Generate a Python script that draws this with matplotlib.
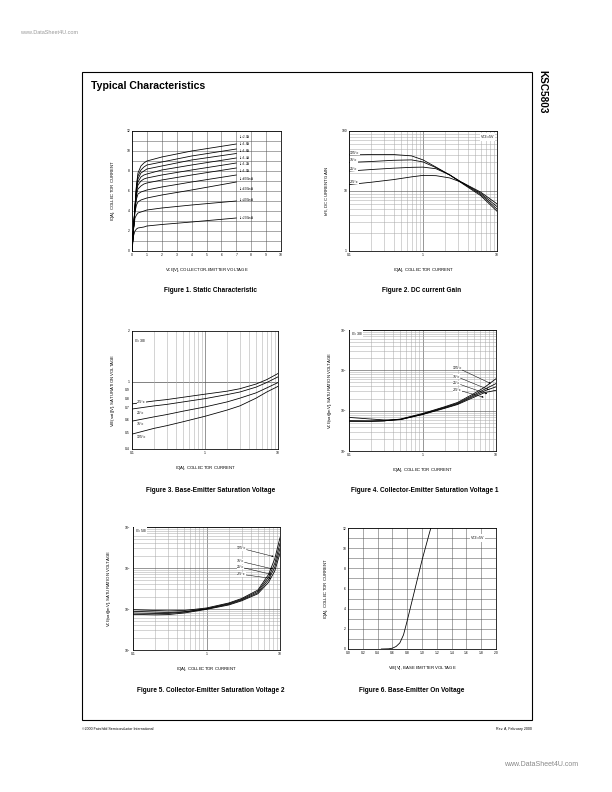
import numpy as np
import matplotlib
matplotlib.use("Agg")
import matplotlib.pyplot as plt
from matplotlib.ticker import FixedLocator, NullFormatter, LogLocator

plt.rcParams['font.family'] = ['Liberation Sans', 'DejaVu Sans']
plt.rcParams['mathtext.fontset'] = 'custom'
plt.rcParams['mathtext.rm'] = 'Liberation Sans'
plt.rcParams['mathtext.it'] = 'Liberation Sans'

# ---- data ----
# Fig 1: static characteristic
vce_pts = [0, 0.1, 0.2, 0.3, 0.4, 0.6, 0.8, 1.0, 2.0, 4.0, 7.0]
ib_labels = ['2.0A', '1.8A', '1.6A', '1.4A', '1.2A', '1.0A', '800mA', '600mA', '400mA', '200mA']
ic_static = [
    [0, 2.2, 4.5, 6.6, 7.8, 8.5, 8.8, 9.0, 9.4, 10.0, 10.7],
    [0, 2.2, 4.5, 6.5, 7.5, 8.1, 8.4, 8.6, 8.9, 9.5, 10.2],
    [0, 2.2, 4.4, 6.3, 7.2, 7.8, 8.0, 8.2, 8.5, 9.1, 9.75],
    [0, 2.2, 4.4, 6.1, 6.9, 7.4, 7.6, 7.7, 8.1, 8.6, 9.3],
    [0, 2.2, 4.3, 5.9, 6.6, 7.0, 7.2, 7.3, 7.6, 8.1, 8.8],
    [0, 2.2, 4.2, 5.6, 6.2, 6.5, 6.7, 6.8, 7.1, 7.6, 8.3],
    [0, 2.2, 4.1, 5.2, 5.7, 5.9, 6.0, 6.1, 6.4, 6.9, 7.6],
    [0, 2.2, 3.9, 4.6, 4.9, 5.1, 5.2, 5.3, 5.6, 6.1, 6.9],
    [0, 2.1, 3.3, 3.6, 3.8, 3.9, 4.0, 4.1, 4.3, 4.6, 5.0],
    [0, 1.5, 2.0, 2.2, 2.3, 2.35, 2.4, 2.5, 2.65, 2.9, 3.3],
]
ib_label_y = [11.35, 10.65, 9.95, 9.3, 8.65, 8.0, 7.2, 6.2, 5.1, 3.3]

# Fig 2: DC current gain
ic_gain = [0.1, 0.2, 0.4, 0.7, 1.0, 1.5, 2.3, 3.5, 6.0, 10.0]
temps = ['125°c', '75°c', '25°c', '-25°c']
hfe = [
    [40, 40.5, 40.5, 38.5, 33, 25, 18.5, 13.0, 8.4, 4.6],
    [30, 31, 32.5, 33, 30.5, 24.5, 18.5, 13.3, 8.8, 5.0],
    [21.5, 22.8, 24, 24.8, 25, 23.5, 18.5, 13.5, 9.2, 5.5],
    [12.8, 14, 15.5, 17.2, 18.2, 18.0, 16.5, 13.6, 9.6, 6.1],
]
hfe_label_y = [43, 32.5, 23.5, 14.3]

# Fig 3: base-emitter saturation voltage (Ic = 3 Ib)
ic_sat = [0.1, 0.2, 0.3, 0.5, 1, 2, 3, 5, 7, 10]
vbe_temps = ['-25°c', '25°c', '75°c', '125°c']
vbe_sat = [
    [0.74, 0.77, 0.785, 0.81, 0.845, 0.88, 0.91, 0.97, 1.03, 1.12],
    [0.69, 0.72, 0.735, 0.76, 0.795, 0.84, 0.87, 0.93, 0.99, 1.07],
    [0.585, 0.62, 0.64, 0.67, 0.71, 0.76, 0.80, 0.86, 0.92, 0.99],
    [0.49, 0.53, 0.55, 0.58, 0.625, 0.68, 0.72, 0.80, 0.87, 0.94],
]
vbe_label_y = [0.76, 0.655, 0.56, 0.47]

# Fig 4: collector-emitter saturation voltage (Ic = 3 Ib), mV
vce_sat1 = [
    [55, 55, 56, 62, 85, 125, 160, 265, 380, 620],
    [55, 55, 56, 61, 83, 121, 153, 245, 340, 470],
    [56, 55, 56, 60, 81, 117, 147, 230, 310, 390],
    [68, 62, 59, 60, 80, 114, 142, 215, 280, 320],
]
vce1_label_y = [1150, 700, 480, 330]
vce1_arrow = [(8.5, 470), (8.0, 330), (7.6, 260), (6.8, 215)]

# Fig 5: collector-emitter saturation voltage (Ic = 5 Ib), mV
ic_sat2 = [0.1, 0.2, 0.3, 0.5, 1, 2, 3, 5, 7, 8.5, 10]
vce_sat2 = [
    [96, 92, 90, 92, 106, 140, 180, 290, 700, 1700, 5500],
    [88, 84, 82, 86, 102, 135, 172, 270, 600, 1300, 4000],
    [80, 78, 78, 84, 100, 130, 165, 250, 520, 1050, 3000],
    [74, 72, 73, 80, 98, 125, 158, 235, 450, 850, 2300],
]
vce2_label_y = [3000, 1450, 1050, 700]
vce2_arrow = [(8.2, 1900), (7.9, 950), (7.6, 700), (7.6, 560)]

# Fig 6: base-emitter on voltage
vbe_on = [0.45, 0.55, 0.6, 0.65, 0.7, 0.75, 0.8, 0.9, 1.0, 1.1, 1.12]
ic_on = [0, 0.02, 0.08, 0.25, 0.6, 1.4, 2.8, 5.8, 8.8, 11.5, 12.0]

W, H = 612, 792
fig = plt.figure(figsize=(W / 72, H / 72), dpi=72)
TS = 3.4   # tick label size
LS = 4.3   # axis label size


def ax_at(l, t, r, b):
    return fig.add_axes([l / W, 1 - b / H, (r - l) / W, (b - t) / H])


def ftext(x, y, s, **kw):
    fig.text(x / W, 1 - y / H, s, **kw)


def style(ax):
    ax.tick_params(which='both', length=0, labelsize=TS, pad=2)
    for sp in ax.spines.values():
        sp.set_linewidth(0.8)


def log_grid(ax, xgrid=True, ygrid=True):
    ax.grid(which='major', axis='both', color='#555555', lw=0.6)
    if xgrid:
        ax.grid(which='minor', axis='x', color='#aaaaaa', lw=0.5)
    if ygrid:
        ax.grid(which='minor', axis='y', color='#aaaaaa', lw=0.5)
    ax.xaxis.set_minor_locator(LogLocator(base=10, subs=np.arange(2, 10)))
    ax.xaxis.set_minor_formatter(NullFormatter())
    ax.set_axisbelow(True)


# page frame and headings
fig.add_artist(plt.Rectangle((82 / W, 1 - 720 / H), 450 / W, 648 / H, fill=False,
                             lw=1.1, color='black', transform=fig.transFigure))
ftext(91, 86, 'Typical Characteristics', fontsize=10.5, fontweight='bold', va='center')
ftext(542, 70, 'KSC5803', fontsize=10, fontweight='bold', rotation=-90, ha='center', va='top')
ftext(20, 32, 'www.DataSheet4U.com', fontsize=5.5, color='#999999', va='center')
ftext(578, 765, 'www.DataSheet4U.com', fontsize=7, color='#888888', ha='right', va='center')
ftext(82, 729, '©2000 Fairchild Semiconductor International', fontsize=3.6, va='center')
ftext(532, 729, 'Rev. A, February 2000', fontsize=3.6, ha='right', va='center')

# ---- Figure 1 ----
ax1 = ax_at(132, 131, 281, 251)
for ic, lab, ly in zip(ic_static, ib_labels, ib_label_y):
    ax1.plot(vce_pts, ic, color='black', lw=0.8)
    ax1.text(7.15, ly, 'I$_B$=' + lab, fontsize=2.9, va='center', ha='left')
ax1.set_xlim(0, 10)
ax1.set_ylim(0, 12)
ax1.set_xticks(range(0, 11))
ax1.set_yticks(range(0, 13, 2))
ax1.yaxis.set_minor_locator(FixedLocator(range(1, 12, 2)))
ax1.grid(which='both', color='#555555', lw=0.5)
ax1.set_axisbelow(True)
style(ax1)
ax1.set_xlabel('V$_{CE}$[V], COLLECTOR-EMITTER VOLTAGE', fontsize=LS, labelpad=9)
ax1.set_ylabel('I$_C$[A], COLLECTOR CURRENT', fontsize=LS, labelpad=9)
ftext(211, 291, 'Figure 1. Static Characteristic', fontsize=6.5, fontweight='bold', ha='center', va='center')

# ---- Figure 2 ----
ax2 = ax_at(349, 131, 497, 251)
for h, lab, ly in zip(hfe, temps, hfe_label_y):
    ax2.plot(ic_gain, h, color='black', lw=0.8)
    ax2.text(0.104, ly, lab, fontsize=3.6, va='center', ha='left',
             bbox=dict(facecolor='white', edgecolor='none', pad=0.2))
ax2.set_xscale('log')
ax2.set_yscale('log')
ax2.set_xlim(0.1, 10)
ax2.set_ylim(1, 100)
ax2.set_xticks([0.1, 1, 10], ['0.1', '1', '10'])
ax2.set_yticks([1, 10, 100], ['1', '10', '100'])
ax2.yaxis.set_minor_locator(LogLocator(base=10, subs=np.arange(2, 10)))
ax2.yaxis.set_minor_formatter(NullFormatter())
log_grid(ax2)
style(ax2)
ax2.text(7.5, 80, 'V$_{CE}$=5V', fontsize=3.6, ha='center', va='center',
         bbox=dict(facecolor='white', edgecolor='none', pad=0.2))
ax2.set_xlabel('I$_C$[A], COLLECTOR CURRENT', fontsize=LS, labelpad=9)
ax2.set_ylabel('h$_{FE}$, DC CURRENT GAIN', fontsize=LS, labelpad=10)
ftext(422, 291, 'Figure 2. DC current Gain', fontsize=6.5, fontweight='bold', ha='center', va='center')

# ---- Figure 3 ----
ax3 = ax_at(132, 331, 278, 449)
for v, lab, ly in zip(vbe_sat, vbe_temps, vbe_label_y):
    ax3.plot(ic_sat, v, color='black', lw=0.8)
    ax3.text(0.118, ly, lab, fontsize=3.6, va='center', ha='left',
             bbox=dict(facecolor='white', edgecolor='none', pad=0.2))
ax3.set_xscale('log')
ax3.set_yscale('log')
ax3.set_xlim(0.1, 10)
ax3.set_ylim(0.4, 2)
ax3.set_xticks([0.1, 1, 10], ['0.1', '1', '10'])
ax3.set_yticks([0.4, 0.5, 0.6, 0.7, 0.8, 0.9, 1, 2],
               ['0.4', '0.5', '0.6', '0.7', '0.8', '0.9', '1', '2'])
ax3.yaxis.set_minor_locator(FixedLocator([]))
ax3.grid(which='minor', axis='x', color='#aaaaaa', lw=0.5)
ax3.grid(which='major', axis='x', color='#555555', lw=0.6)
ax3.axhline(1, color='#333333', lw=0.6, zorder=0)
ax3.xaxis.set_minor_locator(LogLocator(base=10, subs=np.arange(2, 10)))
ax3.xaxis.set_minor_formatter(NullFormatter())
ax3.set_axisbelow(True)
style(ax3)
ax3.text(0.105, 1.75, 'I$_C$=3I$_B$', fontsize=3.6, va='center', ha='left')
ax3.set_xlabel('I$_C$[A], COLLECTOR CURRENT', fontsize=LS, labelpad=9)
ax3.set_ylabel('V$_{BE}$(sat)[V], SATURATION VOLTAGE', fontsize=LS, labelpad=8)
ftext(211, 491, 'Figure 3. Base-Emitter Saturation Voltage', fontsize=6.5, fontweight='bold', ha='center', va='center')

# ---- Figure 4 ----
ax4 = ax_at(349, 330, 496, 451)
for v, lab, ly, tip in zip(vce_sat1, temps, vce1_label_y, vce1_arrow):
    ax4.plot(ic_sat, v, color='black', lw=0.8)
    ax4.annotate(lab, xy=tip, xytext=(2.6, ly), fontsize=3.6, va='center', ha='left',
                 bbox=dict(facecolor='white', edgecolor='none', pad=0.2),
                 arrowprops=dict(arrowstyle='-|>', lw=0.5, color='black',
                                 mutation_scale=3, shrinkA=0, shrinkB=0))
ax4.set_xscale('log')
ax4.set_yscale('log')
ax4.set_xlim(0.1, 10)
ax4.set_ylim(10, 10000)
ax4.set_xticks([0.1, 1, 10], ['0.1', '1', '10'])
ax4.set_yticks([10, 100, 1000, 10000], ['10$^1$', '10$^2$', '10$^3$', '10$^4$'])
ax4.yaxis.set_minor_locator(LogLocator(base=10, subs=np.arange(2, 10)))
ax4.yaxis.set_minor_formatter(NullFormatter())
log_grid(ax4)
style(ax4)
ax4.text(0.105, 8000, 'I$_C$=3I$_B$', fontsize=3.6, va='center', ha='left',
         bbox=dict(facecolor='white', edgecolor='none', pad=0.2))
ax4.set_xlabel('I$_C$[A], COLLECTOR CURRENT', fontsize=LS, labelpad=9)
ax4.set_ylabel('V$_{CE}$(sat)[mV], SATURATION VOLTAGE', fontsize=LS, labelpad=6)
ftext(425, 491, 'Figure 4. Collector-Emitter Saturation Voltage 1', fontsize=6.5, fontweight='bold', ha='center', va='center')

# ---- Figure 5 ----
ax5 = ax_at(133, 527, 280, 650)
for v, lab, ly, tip in zip(vce_sat2, temps, vce2_label_y, vce2_arrow):
    ax5.plot(ic_sat2, v, color='black', lw=0.8)
    ax5.annotate(lab, xy=tip, xytext=(2.6, ly), fontsize=3.6, va='center', ha='left',
                 bbox=dict(facecolor='white', edgecolor='none', pad=0.2),
                 arrowprops=dict(arrowstyle='-|>', lw=0.5, color='black',
                                 mutation_scale=3, shrinkA=0, shrinkB=0))
ax5.set_xscale('log')
ax5.set_yscale('log')
ax5.set_xlim(0.1, 10)
ax5.set_ylim(10, 10000)
ax5.set_xticks([0.1, 1, 10], ['0.1', '1', '10'])
ax5.set_yticks([10, 100, 1000, 10000], ['10$^1$', '10$^2$', '10$^3$', '10$^4$'])
ax5.yaxis.set_minor_locator(LogLocator(base=10, subs=np.arange(2, 10)))
ax5.yaxis.set_minor_formatter(NullFormatter())
log_grid(ax5)
style(ax5)
ax5.text(0.105, 8000, 'I$_C$=5I$_B$', fontsize=3.6, va='center', ha='left',
         bbox=dict(facecolor='white', edgecolor='none', pad=0.2))
ax5.set_xlabel('I$_C$[A], COLLECTOR CURRENT', fontsize=LS, labelpad=9)
ax5.set_ylabel('V$_{CE}$(sat)[mV], SATURATION VOLTAGE', fontsize=LS, labelpad=11)
ftext(211, 690, 'Figure 5. Collector-Emitter Saturation Voltage 2', fontsize=6.5, fontweight='bold', ha='center', va='center')

# ---- Figure 6 ----
ax6 = ax_at(348, 528, 496, 649)
ax6.plot(vbe_on, ic_on, color='black', lw=0.8)
ax6.set_xlim(0, 2.0)
ax6.set_ylim(0, 12)
ax6.set_xticks(np.arange(0, 2.01, 0.2), ['%.1f' % v for v in np.arange(0, 2.01, 0.2)])
ax6.set_yticks(range(0, 13, 2))
ax6.yaxis.set_minor_locator(FixedLocator(range(1, 12, 2)))
ax6.grid(which='both', color='#555555', lw=0.5)
ax6.set_axisbelow(True)
style(ax6)
ax6.text(1.75, 11.0, 'V$_{CE}$=5V', fontsize=3.6, ha='center', va='center',
         bbox=dict(facecolor='white', edgecolor='none', pad=0.2))
ax6.set_xlabel('V$_{BE}$[V], BASE EMITTER VOLTAGE', fontsize=LS, labelpad=9)
ax6.set_ylabel('I$_C$[A], COLLECTOR CURRENT', fontsize=LS, labelpad=12)
ftext(412, 690, 'Figure 6. Base-Emitter On Voltage', fontsize=6.5, fontweight='bold', ha='center', va='center')

fig.savefig('out.png', dpi=72)
